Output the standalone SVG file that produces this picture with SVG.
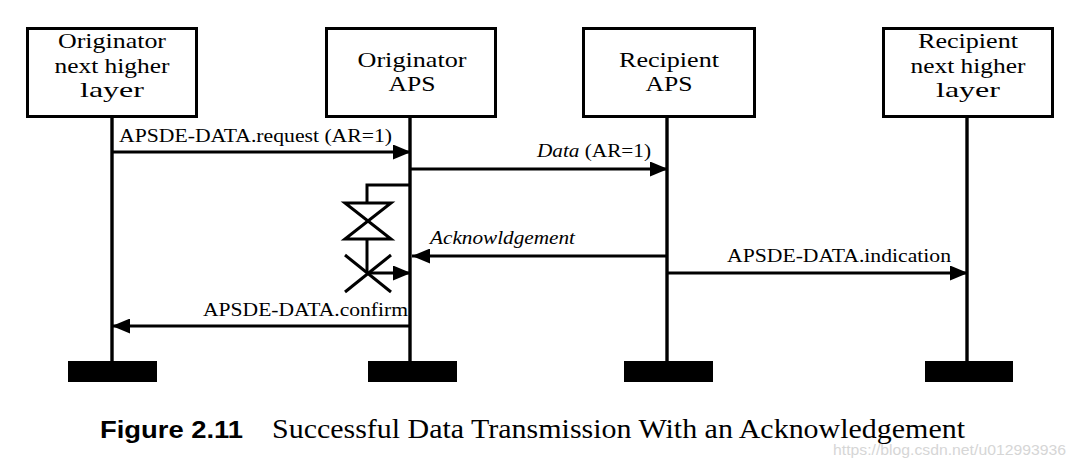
<svg xmlns="http://www.w3.org/2000/svg" width="1076" height="462" viewBox="0 0 1076 462">
  <style>
    .box { fill: #ffffff; stroke: #000000; stroke-width: 3; }
    .life { stroke: #000000; stroke-width: 3.4; fill: none; }
    .bar { fill: #000000; }
    .serif { font-family: 'Liberation Serif', 'Times New Roman', Tinos, Times, 'Nimbus Roman', 'DejaVu Serif', serif; }
    .btxt { font-size: 22px; fill: #000000; text-anchor: middle; }
    .lbl { font-size: 19.5px; fill: #000000; }
    .msg { stroke: #000000; stroke-width: 3; fill: none; }
    .cap { font-size: 27px; fill: #000000; }
    .capb { font-family: 'Liberation Sans', Arial, sans-serif; font-size: 24px; font-weight: bold; fill: #000000; }
    .wm { font-family: 'Liberation Sans', Arial, sans-serif; font-size: 14px; fill: #d6d6d6; }
  </style>
  <defs>
    <marker id="arrow" markerUnits="userSpaceOnUse" markerWidth="18" markerHeight="15" refX="18" refY="7.5" orient="auto">
      <path d="M0,0 L18,7.5 L0,15 z" fill="#000000"/>
    </marker>
  </defs>
  <rect width="1076" height="462" fill="#ffffff"/>

  <g id="node-orig-nhl">
    <line class="life" x1="112" y1="117" x2="112" y2="362"/>
    <rect class="box" x="27.5" y="28.5" width="169" height="88"/>
    <text class="serif btxt" font-family="Liberation Serif, serif" x="112" y="48" textLength="108" lengthAdjust="spacingAndGlyphs">Originator</text>
    <text class="serif btxt" font-family="Liberation Serif, serif" x="112" y="73" textLength="115" lengthAdjust="spacingAndGlyphs">next higher</text>
    <text class="serif btxt" font-family="Liberation Serif, serif" x="112" y="97" textLength="64" lengthAdjust="spacingAndGlyphs">layer</text>
    <rect class="bar" x="68" y="361" width="89" height="21"/>
  </g>

  <g id="node-orig-aps">
    <line class="life" x1="410" y1="117" x2="410" y2="362"/>
    <rect class="box" x="326.5" y="28.5" width="169" height="88"/>
    <text class="serif btxt" font-family="Liberation Serif, serif" x="412" y="67" textLength="109" lengthAdjust="spacingAndGlyphs">Originator</text>
    <text class="serif btxt" font-family="Liberation Serif, serif" x="412" y="91" textLength="47" lengthAdjust="spacingAndGlyphs">APS</text>
    <rect class="bar" x="368" y="361" width="89" height="21"/>
  </g>

  <g id="node-recip-aps">
    <line class="life" x1="667" y1="117" x2="667" y2="362"/>
    <rect class="box" x="583.5" y="28.5" width="171" height="88"/>
    <text class="serif btxt" font-family="Liberation Serif, serif" x="669" y="67" textLength="100" lengthAdjust="spacingAndGlyphs">Recipient</text>
    <text class="serif btxt" font-family="Liberation Serif, serif" x="669" y="91" textLength="47" lengthAdjust="spacingAndGlyphs">APS</text>
    <rect class="bar" x="624" y="361" width="89" height="21"/>
  </g>

  <g id="node-recip-nhl">
    <line class="life" x1="967" y1="117" x2="967" y2="362"/>
    <rect class="box" x="883.5" y="28.5" width="169" height="88"/>
    <text class="serif btxt" font-family="Liberation Serif, serif" x="968" y="48" textLength="100" lengthAdjust="spacingAndGlyphs">Recipient</text>
    <text class="serif btxt" font-family="Liberation Serif, serif" x="968" y="73" textLength="115" lengthAdjust="spacingAndGlyphs">next higher</text>
    <text class="serif btxt" font-family="Liberation Serif, serif" x="968" y="97" textLength="64" lengthAdjust="spacingAndGlyphs">layer</text>
    <rect class="bar" x="925" y="361" width="88" height="21"/>
  </g>

  <g id="connectors">
    <line class="msg" x1="112" y1="152" x2="411" y2="152" marker-end="url(#arrow)"/>
    <text class="serif lbl" font-family="Liberation Serif, serif" x="119" y="142" textLength="273" lengthAdjust="spacingAndGlyphs">APSDE-DATA.request (AR=1)</text>

    <line class="msg" x1="410" y1="169" x2="668" y2="169" marker-end="url(#arrow)"/>
    <text class="serif lbl" font-family="Liberation Serif, serif" x="537" y="157" textLength="114" lengthAdjust="spacingAndGlyphs"><tspan font-style="italic">Data</tspan> (AR=1)</text>

    <line class="msg" x1="668" y1="256" x2="412" y2="256" marker-end="url(#arrow)"/>
    <text class="serif lbl" font-family="Liberation Serif, serif" x="430" y="244" font-style="italic" textLength="145" lengthAdjust="spacingAndGlyphs">Acknowldgement</text>

    <line class="msg" x1="667" y1="273" x2="968" y2="273" marker-end="url(#arrow)"/>
    <text class="serif lbl" font-family="Liberation Serif, serif" x="727" y="262" textLength="224" lengthAdjust="spacingAndGlyphs">APSDE-DATA.indication</text>

    <line class="msg" x1="411" y1="326" x2="112" y2="326" marker-end="url(#arrow)"/>
    <text class="serif lbl" font-family="Liberation Serif, serif" x="203" y="316" textLength="205" lengthAdjust="spacingAndGlyphs">APSDE-DATA.confirm</text>

    <g id="timer">
      <polyline class="msg" points="411,185 367,185 367,203"/>
      <path class="msg" d="M345,203 L391,203 L345,239 L391,239 Z"/>
      <line class="msg" x1="367" y1="239" x2="367" y2="273"/>
      <line class="msg" x1="345" y1="255" x2="391" y2="292"/>
      <line class="msg" x1="391" y1="255" x2="345" y2="292"/>
      <line class="msg" x1="367" y1="273" x2="411" y2="273" marker-end="url(#arrow)"/>
    </g>
  </g>

  <text class="capb" x="100" y="438" textLength="143" lengthAdjust="spacingAndGlyphs">Figure 2.11</text>
  <text class="serif cap" font-family="Liberation Serif, serif" x="272" y="438" textLength="693" lengthAdjust="spacingAndGlyphs">Successful Data Transmission With an Acknowledgement</text>
  <text class="wm" x="833" y="455" textLength="233" lengthAdjust="spacingAndGlyphs">https://blog.csdn.net/u012993936</text>
</svg>
